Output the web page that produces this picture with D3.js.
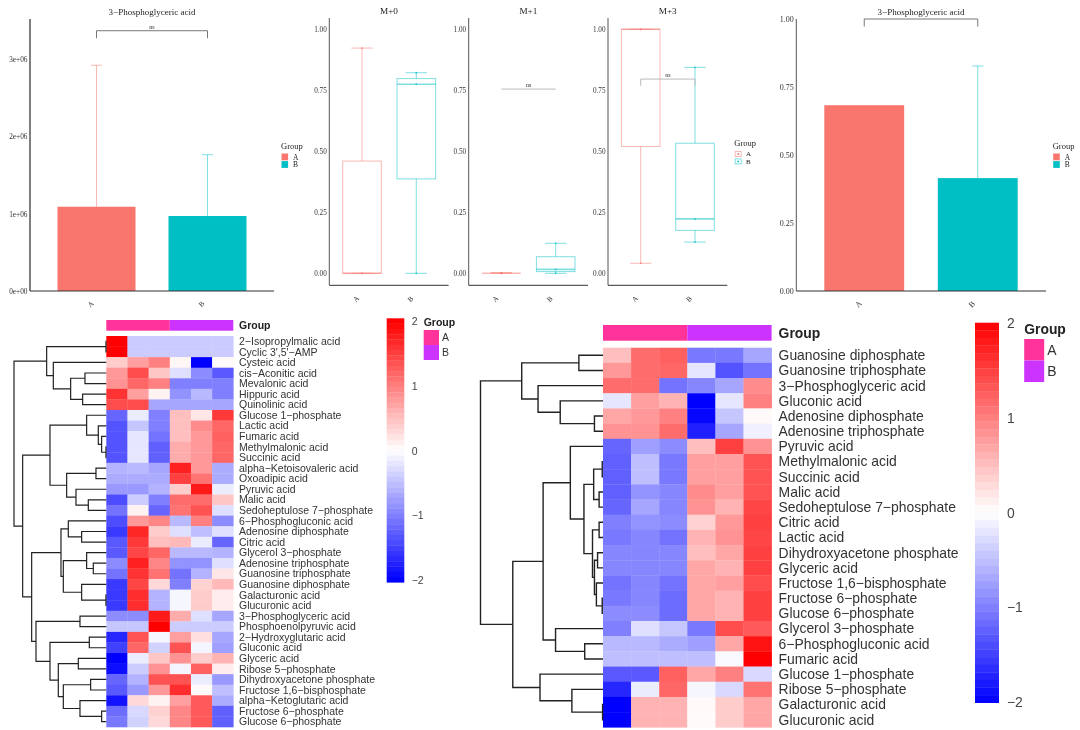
<!DOCTYPE html>
<html><head><meta charset="utf-8">
<script src="https://cdn.jsdelivr.net/npm/d3@7"></script>
<style>
html,body{margin:0;padding:0;background:#fff}
svg{display:block;filter:blur(0.5px)}
</style></head><body>
<svg id="c" width="1080" height="730"></svg>
<script>
// ---------- data ----------
const groups = ["A","B"];
const groupFill = ["#F8766D","#00BFC4"];
const barTitle = "3\u2212Phosphoglyceric acid";
const absMean = [1.09e6,0.97e6];
const absUpper = [2.92e6,1.763e6];
const absTicks = [0,1e6,2e6,3e6];
const relMean = [0.683,0.415];
const relUpper = [null,0.827];
const relTicks = [0,0.25,0.5,0.75,1];
const boxTitles = ["M+0","M+1","M+3"];
// [low whisker, q1, median, q3, high whisker]
const boxM0 = [[0,0,0,0.46,0.923],[0,0.387,0.775,0.798,0.822]];
const boxM1 = [[0,0,0,0,0.003],[0,0.007,0.016,0.068,0.123]];
const boxM3 = [[0.041,0.52,1,1,1],[0.128,0.176,0.223,0.533,0.844]];
const boxBracket = [null,0.755,0.796];
const boxTicks = [0,0.25,0.5,0.75,1];
const heatTicks = [2,1,0,-1,-2];
const annFill = ["#FF3399","#CC33FF"];

const leftRows = ["2\u2212Isopropylmalic acid","Cyclic 3',5'\u2212AMP","Cysteic acid","cis\u2212Aconitic acid","Mevalonic acid","Hippuric acid","Quinolinic acid","Glucose 1\u2212phosphate","Lactic acid","Fumaric acid","Methylmalonic acid","Succinic acid","alpha\u2212Ketoisovaleric acid","Oxoadipic acid","Pyruvic acid","Malic acid","Sedoheptulose 7\u2212phosphate","6\u2212Phosphogluconic acid","Adenosine diphosphate","Citric acid","Glycerol 3\u2212phosphate","Adenosine triphosphate","Guanosine triphosphate","Guanosine diphosphate","Galacturonic acid","Glucuronic acid","3\u2212Phosphoglyceric acid","Phosphoenolpyruvic acid","2\u2212Hydroxyglutaric acid","Gluconic acid","Glyceric acid","Ribose 5\u2212phosphate","Dihydroxyacetone phosphate","Fructose 1,6\u2212bisphosphate","alpha\u2212Ketoglutaric acid","Fructose 6\u2212phosphate","Glucose 6\u2212phosphate"];
const leftValues = [
[2.04,-.41,-.41,-.41,-.41,-.41],[2.04,-.41,-.41,-.41,-.41,-.41],
[.4,.75,1,.07,-2,.05],[.8,1.4,.45,-.25,-.9,-1.3],[.85,1.2,1,-1,-1,-1],
[1.6,.75,.1,-.85,-.55,-1],[1.4,1.4,-.7,-.7,-.7,-.7],[-1.2,-.15,-1,.5,.2,1.55],
[-1.35,-.45,-1,.5,.9,1.2],[-1.35,-.2,-1.1,.5,.8,1.25],[-1.35,-.2,-1.25,.65,.8,1.2],
[-1.35,-.2,-1.25,.65,.8,1.2],[-.6,-.55,-.7,1.75,.8,-.65],[-.65,-.65,-.65,1.5,1.1,-.65],
[-.8,-.8,-.6,.4,1.8,-.15],[-1.4,-.4,-1,1.15,1.15,.45],[-1.1,.1,-1.2,1.1,1.35,-.25],
[-1.4,.8,.95,-.55,1,-.9],[-1.55,1.7,.4,-.25,-.5,-.25],[-1.3,1.55,.5,.55,-.15,-1.2],
[-1.3,1.45,1.2,-.55,-.55,-.6],[-.9,1.75,.95,-.85,-.85,-.25],[-1.1,1.6,1.1,-1.1,-.6,.2],
[-1.55,1.45,.3,-1,.35,.55],[-1.55,1.65,-.6,-.07,.4,.15],[-1.55,1.65,-.6,-.07,.4,.15],
[-.9,-.9,1.8,.65,-.25,-.7],[-.45,-.45,2,-.4,-.4,-.4],[-1.7,1.35,-.07,.75,.25,-.7],
[-1.5,1.2,-.35,1.35,-.08,-.75],[-2,-.15,.45,.85,.4,.6],[-1.9,-.4,.85,-.08,1.25,.15],
[-1.2,-.6,1.35,1.35,-.15,-.8],[-1.3,-.8,.8,1.65,.05,-.5],[-1.85,.3,.1,.75,1.3,-.65],
[-1.15,-.3,.35,.95,1.3,-1.25],[-1.05,-.35,.3,.95,1.3,-1.25]];
// nested merges: [height, child, child]; a number is a row index
const leftTree = [277,
 [179,[1,0,1],[159,2,[107,[64,3,4],[71,5,6]]]],
 [251,
  [169,
   [59,7,[24,8,[14,9,[1,10,11]]]],
   [119,[31,12,13],[91,14,[54,15,16]]]],
  [224,
   [136,[114,17,[74,18,19]],[129,[59,20,[39,21,22]],[74,23,[1,24,25]]]],
   [211,[79,26,27],[169,[51,28,29],[144,[84,30,31],[129,[47,32,33],[79,34,[14,35,36]]]]]]]]];

const rightRows = ["Guanosine diphosphate","Guanosine triphosphate","3\u2212Phosphoglyceric acid","Gluconic acid","Adenosine diphosphate","Adenosine triphosphate","Pyruvic acid","Methylmalonic acid","Succinic acid","Malic acid","Sedoheptulose 7\u2212phosphate","Citric acid","Lactic acid","Dihydroxyacetone phosphate","Glyceric acid","Fructose 1,6\u2212bisphosphate","Fructose 6\u2212phosphate","Glucose 6\u2212phosphate","Glycerol 3\u2212phosphate","6\u2212Phosphogluconic acid","Fumaric acid","Glucose 1\u2212phosphate","Ribose 5\u2212phosphate","Galacturonic acid","Glucuronic acid"];
const rightValues = [
[.5,1.15,1.25,-1.05,-1.05,-.7],[.8,1.15,1.2,-.2,-1.35,-1.1],[1.15,1.15,-1.1,-.95,-.7,.9],
[-.2,.75,.6,-2,-.2,1],[.7,.8,1,-1.95,-.45,.05],[.85,.85,1.15,-1.75,-.7,-.12],
[-1.2,-.75,-.9,.5,1.5,.85],[-1.25,-.5,-1.05,.75,.75,1.35],[-1.25,-.5,-1.05,.75,.75,1.35],
[-1.25,-.85,-.95,.9,.75,1.35],[-1.2,-.7,-.95,.85,.6,1.45],[-1,-.85,-.9,.35,.8,1.5],
[-1.05,-.95,-1.1,.6,.85,1.45],[-.95,-.95,-.95,.5,.7,1.5],[-.95,-.95,-.95,.7,.6,1.5],
[-1.1,-.95,-1.1,.7,.75,1.4],[-1.05,-.95,-1.15,.7,.6,1.5],[-.9,-.9,-1.15,.7,.6,1.5],
[-1,-.25,-.45,-1.05,1.4,1.3],[-.55,-.55,-.65,-.75,.7,1.85],[-.5,-.5,-.5,-.5,-.05,2],
[-1.3,-1.3,1.25,.7,1,-.3],[-1.7,-.15,1.2,-.07,-.3,1.1],[-2,.6,.6,.05,.4,.7],[-2,.6,.6,.03,.4,.7]];
const rightTree = [315,
 [209,[62,0,1],[167,2,[110,3,[22,4,5]]]],
 [232,
  [154,
   [84,6,[49,[24,[2,7,8],[10,9,10]],[27,[10,11,12],[22,[14,13,14],[17,15,[2,16,17]]]]]],
   [122,18,[47,19,20]]],
  [162,21,[80,22,[1,23,24]]]]];

// ---------- helpers ----------
const svg = d3.select("#c");
const SERIF = '"Liberation Serif",serif', SANS='"Liberation Sans",sans-serif';
function label(g,x,y,t,size,opts={}){
  return g.append("text").attr("x",x).attr("y",y).attr("dy",".35em").text(t)
    .attr("font-family",opts.family||SERIF).attr("font-size",size)
    .attr("font-weight",opts.weight||"normal").attr("fill",opts.fill||"#222")
    .attr("text-anchor",opts.anchor||"start");
}
function yAxis(g,x,y,ticks,fmt,w,extTop,extBot,fs){
  const a = g.append("g").attr("transform",`translate(${x},0)`)
    .call(d3.axisLeft(y).tickValues(ticks).tickFormat(fmt).tickSize(0).tickPadding(2.5));
  a.select(".domain").remove();
  a.selectAll("text").attr("font-family",SERIF).attr("font-size",fs).attr("fill","#333");
  g.append("line").attr("x1",x).attr("x2",x).attr("y1",extTop).attr("y2",extBot)
    .attr("stroke","#555").attr("stroke-width",w);
}
function xAxis(g,xBand,yPos,x0,x1,labY,fs){
  g.append("line").attr("x1",x0).attr("x2",x1).attr("y1",yPos).attr("y2",yPos)
    .attr("stroke","#333").attr("stroke-width",1);
  groups.forEach(d=>{
    const cx=xBand(d)+xBand.bandwidth()/2-6;
    g.append("text").attr("transform",`translate(${cx},${labY}) rotate(-45)`)
      .attr("text-anchor","middle").attr("dy",".35em").text(d)
      .attr("font-family",SERIF).attr("font-size",fs).attr("fill","#333");
  });
}
function legendFill(g,x,y){
  label(g,x,y,"Group",8.5);
  groups.forEach((d,i)=>{
    g.append("rect").attr("x",x+.5).attr("y",y+7.5+i*7.6).attr("width",6.6).attr("height",6.8).attr("fill",groupFill[i]);
    label(g,x+12,y+11+i*7.6,d,7.5);
  });
}
function bracket(g,x0,x1,y,yTip,text,col){
  const p=d3.path(); p.moveTo(x0,yTip); p.lineTo(x0,y); p.lineTo(x1,y); p.lineTo(x1,yTip);
  g.append("path").attr("d",p.toString()).attr("fill","none").attr("stroke",col).attr("stroke-width",1);
  if(text) label(g,(x0+x1)/2,y-4,text,6,{anchor:"middle",fill:"#333"});
}
function barPanel(opts){
  const g=svg.append("g");
  const x=d3.scaleBand().domain(groups).range(opts.xr).paddingInner(opts.pi).paddingOuter(0);
  const y=d3.scaleLinear().domain(opts.dom).range(opts.yr);
  g.selectAll("rect.b").data(opts.mean).join("rect").attr("class","b")
    .attr("x",(d,i)=>x(groups[i])).attr("width",x.bandwidth())
    .attr("y",d=>y(d)).attr("height",d=>y(0)-y(d)).attr("fill",(d,i)=>groupFill[i]);
  opts.upper.forEach((u,i)=>{
    if(u==null) return;
    const cx=x(groups[i])+x.bandwidth()/2;
    g.append("line").attr("x1",cx).attr("x2",cx).attr("y1",y(opts.mean[i])).attr("y2",y(u))
      .attr("stroke",groupFill[i]).attr("stroke-opacity",.5).attr("stroke-width",1);
    g.append("line").attr("x1",cx-5.5).attr("x2",cx+5.5).attr("y1",y(u)).attr("y2",y(u))
      .attr("stroke",groupFill[i]).attr("stroke-opacity",.5).attr("stroke-width",1);
  });
  yAxis(g,opts.xr[0]-opts.axGap,y,opts.ticks,opts.fmt,opts.axw,opts.yTop,y(0),opts.fs);
  xAxis(g,x,y(0),opts.xr[0]-opts.axGap,opts.xEnd,304,opts.fs);
  label(g,opts.tx,11.5,barTitle,9,{anchor:"middle"});
  const cA=x("A")+x.bandwidth()/2,cB=x("B")+x.bandwidth()/2;
  bracket(g,cA,cB,y(opts.br),y(opts.br)+7.5,opts.brT,"#777");
  legendFill(g,opts.lx,146);
}
function boxPanel(i,data,ax,title,br){
  const g=svg.append("g");
  const x=d3.scalePoint().domain(groups).range([ax+32.7,ax+87]);
  const y=d3.scaleLinear().domain([0,1]).range([273.3,29.3]);
  const hw=19.3,cap=10.7;
  data.forEach((b,j)=>{
    const cx=x(groups[j]),col=groupFill[j];
    const [lo,q1,med,q3,hi]=b;
    const s=g.append("g").attr("stroke",col).attr("stroke-opacity",.5).attr("fill","none").attr("stroke-width",1);
    s.append("line").attr("x1",cx).attr("x2",cx).attr("y1",y(q3)).attr("y2",y(hi));
    s.append("line").attr("x1",cx).attr("x2",cx).attr("y1",y(q1)).attr("y2",y(lo));
    s.append("line").attr("x1",cx-cap).attr("x2",cx+cap).attr("y1",y(hi)).attr("y2",y(hi));
    s.append("line").attr("x1",cx-cap).attr("x2",cx+cap).attr("y1",y(lo)).attr("y2",y(lo));
    s.append("rect").attr("x",cx-hw).attr("width",2*hw).attr("y",y(q3)).attr("height",y(q1)-y(q3));
    s.append("line").attr("x1",cx-hw).attr("x2",cx+hw).attr("y1",y(med)).attr("y2",y(med)).attr("stroke-width",1.6);
    [lo,med,hi].forEach(v=>g.append("circle").attr("cx",cx).attr("cy",y(v)).attr("r",.9).attr("fill",col).attr("fill-opacity",.8));
  });
  yAxis(g,ax,y,boxTicks,d3.format(".2f"),1,18,285.3,7.2);
  const xb=d3.scaleBand().domain(groups).range([ax+5.5,ax+114.2]);
  xAxis(g,xb,285.3,ax,ax+119.3,299,7.2);
  label(g,ax+59.7,10.5,title,9.2,{anchor:"middle"});
  if(br!=null){
    const tip = i===2 ? y(br)+6.7 : y(br);
    bracket(g,x("A"),x("B"),y(br),tip,"ns","#bbb");
  }
}
function heatmap(o){
  const g=svg.append("g");
  const color=d3.scaleLinear().domain([-2,0,2]).range(["#0000FF","#FFFFFF","#FF0000"]).clamp(true);
  const cols=d3.range(6);
  const x=d3.scaleBand().domain(cols).range(o.xr);
  const y=d3.scaleBand().domain(d3.range(o.rows.length)).range(o.yr);
  g.selectAll("g.r").data(o.values).join("g").attr("class","r")
    .attr("transform",(d,i)=>`translate(0,${y(i)})`)
    .selectAll("rect").data(d=>d).join("rect")
    .attr("x",(d,j)=>x(j)).attr("width",x.bandwidth()+.3).attr("height",y.bandwidth()+.3)
    .attr("fill",d=>color(d));
  o.rows.forEach((t,i)=>label(g,o.lx,y(i)+y.bandwidth()/2,t,o.fs,{family:SANS,fill:"#333"}));
  groups.forEach((d,i)=>{
    g.append("rect").attr("x",x(i*3)).attr("width",3*x.bandwidth()).attr("y",o.ann[0]).attr("height",o.ann[1]-o.ann[0]).attr("fill",annFill[i]);
  });
  label(g,o.lx,(o.ann[0]+o.ann[1])/2,"Group",o.fs,{family:SANS,weight:"bold"});
  const h=d3.scaleLinear().domain([0,o.tree[0]]).range([o.xr[0],o.rootX]);
  const rowY=i=>y(i)+y.bandwidth()/2;
  const lines=[];
  (function walk(n){
    if(typeof n==="number") return {x:o.xr[0],y:rowY(n)};
    const a=walk(n[1]),b=walk(n[2]),px=h(n[0]);
    lines.push([[a.x,a.y],[px,a.y],[px,b.y],[b.x,b.y]]);
    return {x:px,y:(a.y+b.y)/2};
  })(o.tree);
  const ln=d3.line();
  g.selectAll("path.d").data(lines).join("path").attr("class","d").attr("d",ln)
    .attr("fill","none").attr("stroke","#222").attr("stroke-width",o.dw);
  const cb=d3.scaleLinear().domain([2,-2]).range(o.cbTicks);
  const [cbTop,cbBot]=o.cbY;
  const n=50,step=(cbBot-cbTop)/n;
  g.selectAll("rect.cb").data(d3.range(n)).join("rect").attr("class","cb")
    .attr("x",o.cbX[0]).attr("width",o.cbX[1]-o.cbX[0])
    .attr("y",d=>cbTop+d*step).attr("height",step+.3)
    .attr("fill",d=>color(cb.invert(cbTop+(d+.5)*step)));
  heatTicks.forEach(t=>label(g,o.cbL,cb(t),t<0?"\u2212"+(-t):String(t),o.fs,{family:SANS,fill:"#444"}));
  label(g,o.gx,o.gy,"Group",o.fs,{family:SANS,weight:"bold"});
  groups.forEach((d,i)=>{
    g.append("rect").attr("x",o.gx).attr("width",o.sw).attr("y",o.sy+i*o.sh).attr("height",o.sh).attr("fill",annFill[i]);
    label(g,o.gx+o.sw+3,o.sy+(i+.5)*o.sh,d,o.fs,{family:SANS,fill:"#333"});
  });
}

// ---------- panels ----------
barPanel({xr:[57.5,246.5],pi:33/111,dom:[0,1e6],yr:[291,213.7],mean:absMean,upper:absUpper,
  ticks:absTicks,fmt:d=>d===0?"0e+00":(d/1e6)+"e+06",axGap:27.5,axw:1.5,yTop:19,xEnd:274,tx:152,
  br:3.367e6,brT:"ns",lx:281,fs:7.3});
barPanel({xr:[824.3,1017.7],pi:33.7/113.7,dom:[0,1],yr:[291,19],mean:relMean,upper:relUpper,
  ticks:relTicks,fmt:d3.format(".2f"),axGap:28,axw:1,yTop:19,xEnd:1046,tx:921,
  br:1,brT:null,lx:1052.7,fs:8});
[boxM0,boxM1,boxM3].forEach((d,i)=>boxPanel(i,d,[329.3,468.7,608][i],boxTitles[i],boxBracket[i]));
(function(){
  const g=svg.append("g"); label(g,734.3,143,"Group",8.5);
  groups.forEach((d,i)=>{
    const y=154+i*7.4;
    g.append("rect").attr("x",735.2).attr("y",y-2.5).attr("width",6).attr("height",5)
      .attr("fill","none").attr("stroke",groupFill[i]).attr("stroke-opacity",.5);
    g.append("circle").attr("cx",738.2).attr("cy",y).attr("r",.9).attr("fill",groupFill[i]);
    label(g,746,y,d,7);
  });
})();
heatmap({rows:leftRows,values:leftValues,tree:leftTree,xr:[106.3,233.3],yr:[336,727],ann:[320,330.7],
  lx:239,fs:10.5,rootX:14,dw:1.2,cbX:[386.7,404.3],cbY:[318.3,582.3],cbTicks:[321.7,580],cbL:411.7,
  gx:423.7,gy:322.7,sy:330,sh:15,sw:15.3});
heatmap({rows:rightRows,values:rightValues,tree:rightTree,xr:[603,771.6],yr:[347.7,727.3],ann:[325,340.7],
  lx:778.6,fs:13.9,rootX:480.5,dw:1.4,cbX:[975,999],cbY:[322.7,702.7],cbTicks:[323.3,702.3],cbL:1007,
  gx:1024.2,gy:329,sy:339,sh:21.5,sw:20});
</script>
</body></html>
